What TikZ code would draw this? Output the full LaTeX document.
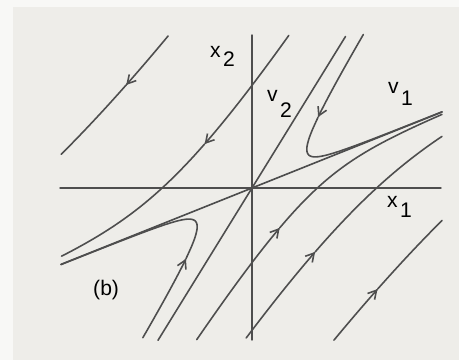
\documentclass[tikz,border=0pt]{standalone}
\usepackage{fontspec}
\setmainfont{Liberation Sans}
\usetikzlibrary{arrows.meta}
\definecolor{paper}{RGB}{238,237,233}
\definecolor{rim}{RGB}{248,248,246}
\definecolor{ink}{RGB}{78,78,78}
\newcommand{\sublab}[3][8pt]{#2\kern2pt\raisebox{-#1}{#3}}
\tikzset{
  axis/.style={ink,line width=1.2pt},
  orbit/.style={ink,line width=1.35pt,smooth,samples=60},
  head/.style={-{Straight Barb[length=7pt,width=8pt]}},
  lab/.style={inner sep=0pt,anchor=base west,font=\fontsize{18}{21}\selectfont}
}
\begin{document}
\begin{tikzpicture}[x=3cm,y=3cm,line join=round,line cap=round]
	\fill[rim] (-2.52,-1.72) rectangle (2.07,1.88);
	\fill[paper] (-2.39,-1.72) rectangle (2.07,1.81);
	\useasboundingbox (-2.52,-1.72) rectangle (2.07,1.88);
	% axes
	\coordinate (O) at (0,0);
	\coordinate (x1l) at (-1.92,0);
	\coordinate (x1r) at (1.89,0);
	\coordinate (x2b) at (0,-1.52);
	\coordinate (x2t) at (0,1.53);
	\draw[axis] (x1l)--(x1r);
	\draw[axis] (x2b)--(x2t);
	% eigen directions
	\coordinate (v1a) at (-1.91,-0.764);
	\coordinate (v1b) at (1.90,0.76);
	\coordinate (v2a) at (-0.94,-1.523);
	\coordinate (v2b) at (0.935,1.515);
	\draw[orbit] (v1a)--(O)--(v1b);
	\draw[orbit] (v2a)--(O)--(v2b);
	% trajectories, each split where its arrow sits
	\draw[orbit,head] plot[variable=\t,domain=2.36:2.515] ({-\t+20/\t^3},{-0.4*\t+32.4/\t^3});
	\draw[orbit] plot[variable=\t,domain=2.515:2.81] ({-\t+20/\t^3},{-0.4*\t+32.4/\t^3});
	\draw[orbit,head] plot[variable=\t,domain=0.762:0.99] ({-\t+0.5/\t^3},{-0.4*\t+0.81/\t^3});
	\draw[orbit] plot[variable=\t,domain=0.99:1.97] ({-\t+0.5/\t^3},{-0.4*\t+0.81/\t^3});
	\draw[orbit,head] plot[variable=\t,domain=0.22:0.297] ({\t+0.0095/\t^3},{0.4*\t+0.01539/\t^3});
	\draw[orbit] plot[variable=\t,domain=0.297:1.9] ({\t+0.0095/\t^3},{0.4*\t+0.01539/\t^3});
	\draw[orbit,head] plot[variable=\t,domain=0.222:0.297] ({-\t-0.0095/\t^3},{-0.4*\t-0.01539/\t^3});
	\draw[orbit] plot[variable=\t,domain=0.297:1.91] ({-\t-0.0095/\t^3},{-0.4*\t-0.01539/\t^3});
	\draw[orbit,head] plot[variable=\t,domain=0.509:0.695] ({\t-0.14/\t^3},{0.4*\t-0.2268/\t^3});
	\draw[orbit] plot[variable=\t,domain=0.695:1.92] ({\t-0.14/\t^3},{0.4*\t-0.2268/\t^3});
	\draw[orbit,head] plot[variable=\t,domain=1.152:1.363] ({\t-1.85/\t^3},{0.4*\t-2.997/\t^3});
	\draw[orbit] plot[variable=\t,domain=1.363:2.1] ({\t-1.85/\t^3},{0.4*\t-2.997/\t^3});
	\draw[orbit,head] plot[variable=\t,domain=2.335:2.497] ({\t-19.3/\t^3},{0.4*\t-31.266/\t^3});
	\draw[orbit] plot[variable=\t,domain=2.497:2.79] ({\t-19.3/\t^3},{0.4*\t-31.266/\t^3});
	% labels
	\node[lab] (x2lab) at (-0.42,1.30) {\sublab[7.5pt]{x}{2}};
	\node[lab] (v2lab) at (0.15,0.86) {\sublab[13pt]{v}{2}};
	\node[lab] (v1lab) at (1.36,0.94) {\sublab[10pt]{v}{1}};
	\node[lab] (x1lab) at (1.35,-0.20) {\sublab[8.5pt]{x}{1}};
	\node[lab] (blab) at (-1.59,-1.08) {(b)};
\end{tikzpicture}
\end{document}
